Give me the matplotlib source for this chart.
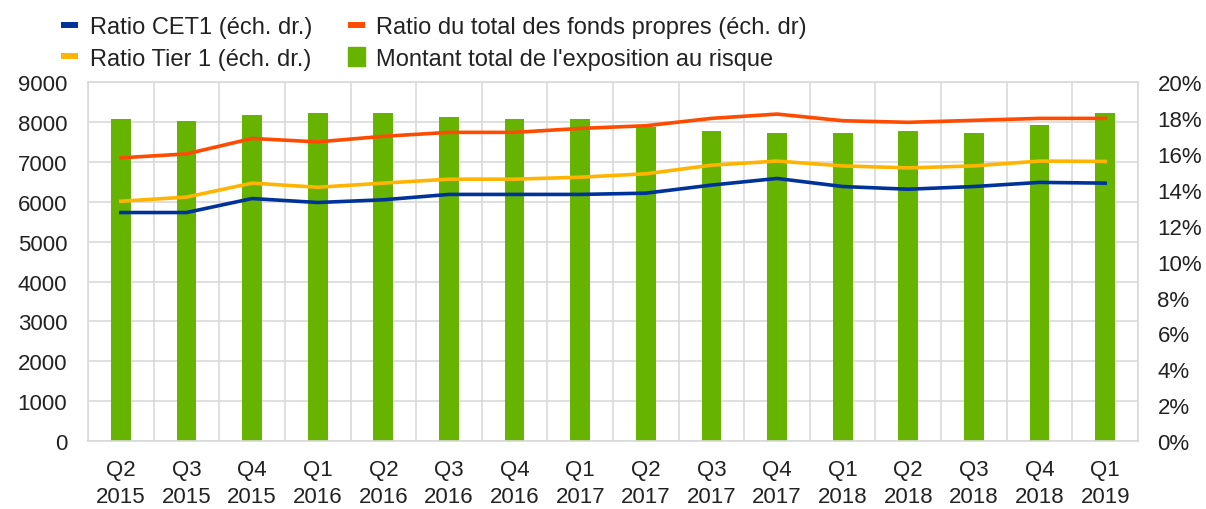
import numpy as np
import matplotlib.pyplot as plt
from matplotlib.patches import Patch
from matplotlib.lines import Line2D

plt.rcParams['font.family'] = ['Liberation Sans', 'DejaVu Sans']

# Données
trimestres = ["Q2\n2015", "Q3\n2015", "Q4\n2015", "Q1\n2016", "Q2\n2016", "Q3\n2016",
              "Q4\n2016", "Q1\n2017", "Q2\n2017", "Q3\n2017", "Q4\n2017", "Q1\n2018",
              "Q2\n2018", "Q3\n2018", "Q4\n2018", "Q1\n2019"]
exposition = [8080, 8030, 8180, 8230, 8230, 8120, 8080, 8080,
              7880, 7770, 7730, 7730, 7770, 7730, 7930, 8230]
ratio_cet1 = [12.74, 12.74, 13.52, 13.30, 13.45, 13.75, 13.75, 13.75,
              13.82, 14.27, 14.64, 14.19, 14.04, 14.19, 14.42, 14.38]
ratio_tier1 = [13.37, 13.60, 14.38, 14.15, 14.38, 14.60, 14.60, 14.71,
               14.90, 15.38, 15.61, 15.34, 15.23, 15.34, 15.61, 15.59]
ratio_total = [15.79, 16.01, 16.87, 16.68, 16.99, 17.21, 17.21, 17.43,
               17.58, 17.99, 18.23, 17.86, 17.77, 17.88, 17.99, 17.99]

vert = "#66b400"
bleu = "#003399"
jaune = "#ffb400"
rouge = "#ff4b00"
gris = "#d9d9d9"
texte = "#222222"

fig = plt.figure(figsize=(12.06, 5.10), dpi=100)
ax = fig.add_axes([0.073, 0.1333, 0.8706, 0.7033])
x = np.arange(len(trimestres))

ax.bar(x, exposition, width=0.30, color=vert, zorder=2)
ax.set_xlim(-0.5, len(trimestres) - 0.5)
ax.set_ylim(0, 9000)
ax.set_yticks(np.arange(0, 9001, 1000))
ax.set_xticks(x)
ax.set_xticklabels(trimestres, fontsize=16, color=texte, linespacing=1.38)
ax.set_xticks(np.arange(-0.5, len(trimestres), 1), minor=True)
ax.grid(axis="y", color=gris, linewidth=1.2, zorder=0)
ax.grid(axis="x", which="minor", color=gris, linewidth=1.2, zorder=0)
ax.tick_params(axis="both", which="both", length=0, labelsize=16, colors=texte)
ax.tick_params(axis="x", pad=13)
ax.tick_params(axis="y", pad=15)
for s in ax.spines.values():
    s.set_color(gris)
    s.set_linewidth(1.2)

ax2 = ax.twinx()
ax2.plot(x, ratio_total, color=rouge, linewidth=2.6, zorder=3)
ax2.plot(x, ratio_tier1, color=jaune, linewidth=2.6, zorder=3)
ax2.plot(x, ratio_cet1, color=bleu, linewidth=2.6, zorder=3)
ax2.set_ylim(0, 20)
ax2.set_yticks(np.arange(0, 21, 2))
ax2.set_yticklabels([f"{v}%" for v in range(0, 21, 2)])
ax2.tick_params(axis="y", length=0, labelsize=16, colors=texte, pad=14)
for s in ax2.spines.values():
    s.set_visible(False)

handles = [Line2D([], [], color=bleu, linewidth=4.3, solid_capstyle="butt"),
           Line2D([], [], color=jaune, linewidth=4.3, solid_capstyle="butt"),
           Line2D([], [], color=rouge, linewidth=4.3, solid_capstyle="butt"),
           Patch(color=vert)]
labels = ["Ratio CET1 (éch. dr.)", "Ratio Tier 1 (éch. dr.)",
          "Ratio du total des fonds propres (éch. dr)",
          "Montant total de l'exposition au risque"]
fig.legend(handles, labels, ncol=2, loc="upper left", bbox_to_anchor=(0.0506, 0.967),
           frameon=False, fontsize=17, handlelength=0.72, handleheight=0.85,
           handletextpad=0.5, columnspacing=1.5, labelspacing=0.37,
           borderpad=0, borderaxespad=0, labelcolor=texte)

fig.savefig("out.png", dpi=100)
